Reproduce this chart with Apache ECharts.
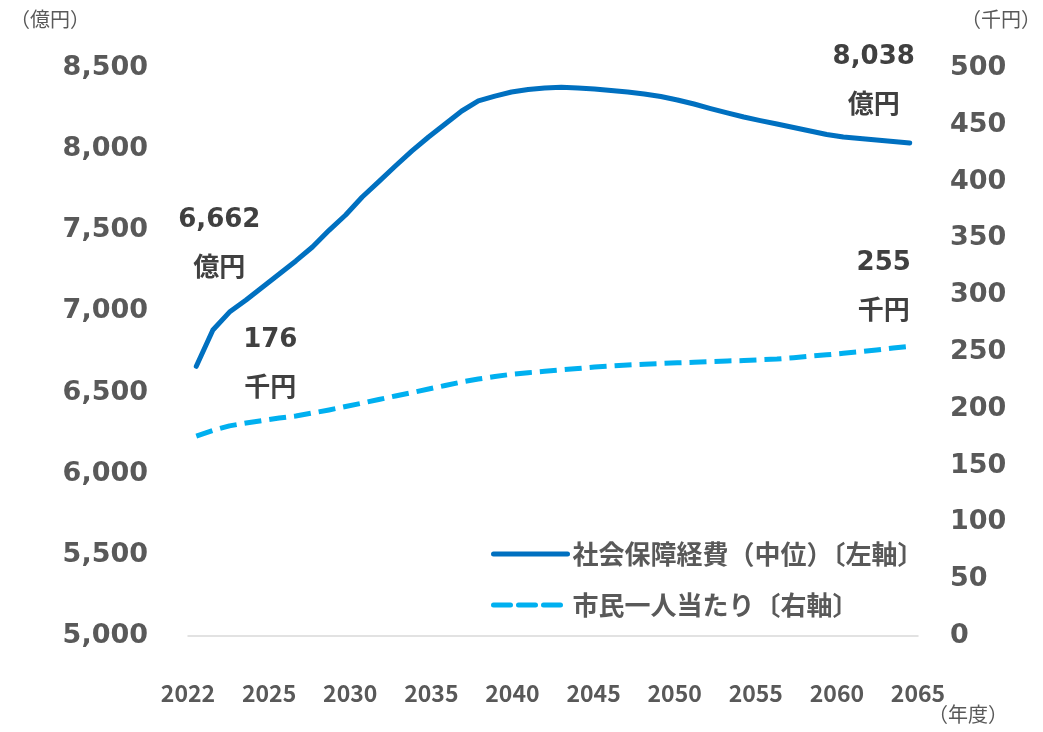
<!DOCTYPE html>
<html>
<head>
<meta charset="utf-8">
<script src="https://cdn.jsdelivr.net/npm/echarts@6/dist/echarts.min.js"></script>
<style>
  html, body { margin: 0; padding: 0; background: #ffffff; }
  #chart { width: 1043px; height: 732px; }
</style>
</head>
<body>
<div id="chart"></div>
<script>
// ---- data ----
const years = [2022,2023,2024,2025,2026,2027,2028,2029,2030,2031,2032,2033,2034,2035,2036,2037,2038,2039,2040,2041,2042,2043,2044,2045,2046,2047,2048,2049,2050,2051,2052,2053,2054,2055,2056,2057,2058,2059,2060,2061,2062,2063,2064,2065];
const xTickLabels = ['2022','2025','2030','2035','2040','2045','2050','2055','2060','2065'];
const socialSecurityCost = [6662,6886,6996,7070,7150,7231,7311,7397,7500,7594,7705,7800,7896,7989,8075,8155,8235,8297,8327,8352,8368,8377,8381,8377,8371,8361,8352,8340,8324,8303,8278,8250,8223,8198,8176,8155,8133,8112,8090,8075,8066,8056,8047,8038];
const perCapita = [176,181,185,187.5,189.7,191.9,193.7,196.3,199,202,205,208.2,211.3,214.3,217.4,220.5,223.6,226.2,228.4,230.4,231.8,233,234.3,235.5,236.8,237.7,238.6,239.3,239.9,240.5,241,241.6,242.1,242.5,243.2,243.8,244.9,246.3,247.5,248.9,250.2,251.8,253.5,255];
const leftTicks = {min: 5000, max: 8500, interval: 500};
const rightTicks = {min: 0, max: 500, interval: 50};
const seriesNames = ['社会保障経費（中位）〔左軸〕', '市民一人当たり〔右軸〕'];

const NUM_FONT = 'DejaVu Sans';
const JP_FONT = 'Noto Sans CJK JP';
const AXIS_COLOR = '#595959';
const NOTE_COLOR = '#404040';

function fmt(v) { return Math.round(v).toLocaleString('en-US'); }

function noteLabel(unit, dx, dist) {
  return {
    show: true,
    position: 'top',
    distance: dist,
    offset: [dx, 0],
    align: 'center',
    formatter: function (p) { return '{n|' + fmt(p.value) + '}\n{u|' + unit + '}'; },
    rich: {
      n: {fontFamily: NUM_FONT, fontWeight: 'bold', fontSize: 26, color: NOTE_COLOR, lineHeight: 46, align: 'center'},
      u: {fontFamily: JP_FONT, fontWeight: 'bold', fontSize: 26, color: NOTE_COLOR, lineHeight: 46, align: 'center'}
    }
  };
}

function endNotes(arr, unit, firstCfg, lastCfg) {
  const last = arr.length - 1;
  return {
    symbol: 'circle',
    symbolSize: 0,
    silent: true,
    animation: false,
    data: [
      {coord: [0, arr[0]], value: arr[0], label: noteLabel(unit, firstCfg[0], firstCfg[1])},
      {coord: [last, arr[last]], value: arr[last], label: noteLabel(unit, lastCfg[0], lastCfg[1])}
    ]
  };
}

const chart = echarts.init(document.getElementById('chart'), null, {renderer: 'canvas'});
const option = {
  animation: false,
  backgroundColor: '#ffffff',
  grid: {left: 188, right: 125, top: 68, bottom: 96, containLabel: false},
  legend: {
    orient: 'vertical',
    left: 486,
    top: 536,
    itemWidth: 74,
    itemHeight: 14,
    itemGap: 25,
    itemStyle: {opacity: 0},
    lineStyle: {width: 5, cap: 'round'},
    textStyle: {fontFamily: JP_FONT, fontWeight: 'bold', fontSize: 26, color: AXIS_COLOR},
    data: seriesNames
  },
  xAxis: [
    {
      type: 'category',
      data: years,
      boundaryGap: true,
      axisLine: {show: true, lineStyle: {color: '#D9D9D9', width: 1.5}},
      axisTick: {show: false},
      axisLabel: {show: false},
      splitLine: {show: false}
    },
    {
      type: 'category',
      data: xTickLabels,
      boundaryGap: false,
      position: 'bottom',
      axisLine: {show: false},
      axisTick: {show: false},
      axisLabel: {show: true, margin: 46, fontFamily: JP_FONT, fontWeight: 'bold', fontSize: 23, color: AXIS_COLOR},
      splitLine: {show: false}
    }
  ],
  yAxis: [
    {
      type: 'value',
      min: leftTicks.min, max: leftTicks.max, interval: leftTicks.interval,
      axisLine: {show: false}, axisTick: {show: false}, splitLine: {show: false},
      axisLabel: {margin: 40, fontFamily: NUM_FONT, fontWeight: 'bold', fontSize: 27, color: AXIS_COLOR,
        formatter: function (v) { return fmt(v); }}
    },
    {
      type: 'value',
      min: rightTicks.min, max: rightTicks.max, interval: rightTicks.interval,
      position: 'right',
      axisLine: {show: false}, axisTick: {show: false}, splitLine: {show: false},
      axisLabel: {margin: 32, fontFamily: NUM_FONT, fontWeight: 'bold', fontSize: 27, color: AXIS_COLOR}
    }
  ],
  series: [
    {
      name: seriesNames[0],
      type: 'line',
      xAxisIndex: 0,
      yAxisIndex: 0,
      data: socialSecurityCost,
      symbol: 'none',
      showSymbol: false,
      smooth: false,
      lineStyle: {color: '#0070C0', width: 5, cap: 'round', join: 'round'},
      itemStyle: {color: '#0070C0'},
      markPoint: endNotes(socialSecurityCost, '億円', [23, 77], [-36, 17]),
      z: 3
    },
    {
      name: seriesNames[1],
      type: 'line',
      xAxisIndex: 0,
      yAxisIndex: 1,
      data: perCapita,
      symbol: 'none',
      showSymbol: false,
      smooth: false,
      lineStyle: {color: '#00B0F0', width: 5, type: [17, 8], cap: 'butt', join: 'round'},
      itemStyle: {color: '#00B0F0'},
      markPoint: endNotes(perCapita, '千円', [74, 27], [-26, 14]),
      z: 2
    }
  ],
  graphic: [
    {type: 'text', left: 10, top: 9, style: {text: '（億円）', fontFamily: JP_FONT, fontSize: 20, fill: AXIS_COLOR}},
    {type: 'text', right: 2, top: 9, style: {text: '（千円）', fontFamily: JP_FONT, fontSize: 20, fill: AXIS_COLOR}},
    {type: 'text', left: 928, top: 704, style: {text: '（年度）', fontFamily: JP_FONT, fontSize: 20, fill: AXIS_COLOR}}
  ]
};
chart.setOption(option);
</script>
</body>
</html>
